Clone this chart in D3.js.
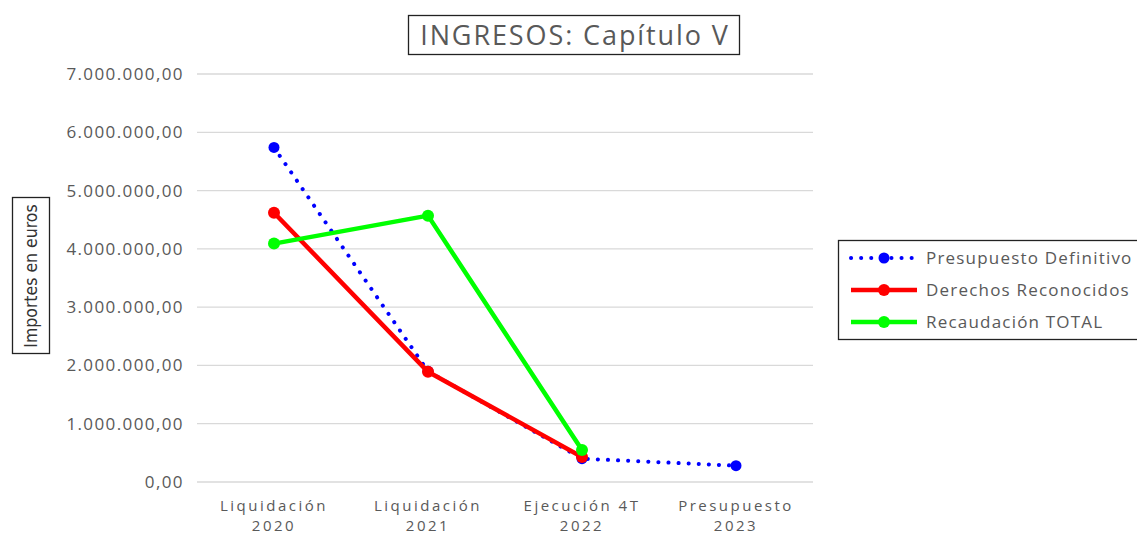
<!DOCTYPE html>
<html><head><meta charset="utf-8">
<script src="https://cdn.jsdelivr.net/npm/d3@7"></script>
<style>body{margin:0;background:#fff}svg{display:block}</style>
</head><body>
<script>
const categories = [["Liquidación","2020"],["Liquidación","2021"],["Ejecución 4T","2022"],["Presupuesto","2023"]];
const presupuestoDefinitivo = [5740000, 1900000, 400000, 280000];
const derechosReconocidos = [4620000, 1890000, 430000];
const recaudacionTotal = [4090000, 4570000, 550000];
const yTicks = [0,1000000,2000000,3000000,4000000,5000000,6000000,7000000];
const seriesNames = ["Presupuesto Definitivo","Derechos Reconocidos","Recaudación TOTAL"];

const W=1137,H=535;
const svg=d3.select("body").append("svg").attr("width",W).attr("height",H);
const font="'Open Sans', sans-serif";
const grey="#595959";

const x=d3.scaleBand().domain(d3.range(categories.length)).range([197,813]);
const y=d3.scaleLinear().domain([0,7000000]).range([482,74]);
const fmt=v=>d3.format(",.2f")(v).replace(/,/g,"#").replace(".",",").replace(/#/g,".");

// grid
svg.append("g").selectAll("line").data(yTicks).join("line")
  .attr("x1",197).attr("x2",813).attr("y1",d=>y(d)).attr("y2",d=>y(d))
  .attr("stroke","#d9d9d9").attr("stroke-width",1.3);

const ya=svg.append("g").attr("transform","translate(197,0)")
  .call(d3.axisLeft(y).tickValues(yTicks).tickFormat(fmt).tickSize(0).tickPadding(13));
ya.select(".domain").remove();
ya.selectAll("text").attr("font-family",font).attr("font-size",17).attr("letter-spacing",1.4).attr("fill",grey);

const xa=svg.append("g").attr("transform","translate(0,482)")
  .call(d3.axisBottom(x).tickSize(0).tickFormat(""));
xa.select(".domain").remove();
xa.selectAll(".tick").each(function(d){
  const g=d3.select(this);
  g.append("text").attr("font-family",font).attr("font-size",15)
    .attr("letter-spacing",2.5).attr("fill",grey).attr("text-anchor","middle")
    .attr("x",0).attr("y",29).text(categories[d][0]);
  g.append("text").attr("font-family",font).attr("font-size",15)
    .attr("letter-spacing",2.5).attr("fill",grey).attr("text-anchor","middle")
    .attr("x",0).attr("y",49).text(categories[d][1]);
});

const line=d3.line().x((d,i)=>x(i)+x.bandwidth()/2).y(d=>y(d));
function drawSeries(data,color,dotted){
  const p=svg.append("path").datum(data).attr("d",line).attr("fill","none")
    .attr("stroke",color).attr("stroke-width",dotted?4:4.5).attr("stroke-linejoin","round");
  if(dotted) p.attr("stroke-dasharray","0.1 10").attr("stroke-linecap","round");
  svg.append("g").selectAll("circle").data(data).join("circle")
    .attr("cx",(d,i)=>x(i)+x.bandwidth()/2).attr("cy",d=>y(d)).attr("r",dotted?5.5:6)
    .attr("fill",color);
}
drawSeries(presupuestoDefinitivo,"#0000ff",true);
drawSeries(derechosReconocidos,"#ff0000",false);
drawSeries(recaudacionTotal,"#00ff00",false);

// title
svg.append("rect").attr("x",408.5).attr("y",15.5).attr("width",331).attr("height",39)
  .attr("fill","#fff").attr("stroke","#222").attr("stroke-width",1.3);
svg.append("text").attr("x",575).attr("y",45).attr("text-anchor","middle")
  .attr("font-family",font).attr("font-size",27).attr("letter-spacing",1.9).attr("fill",grey).text("INGRESOS: Capítulo V");

// y label
svg.append("rect").attr("x",12.5).attr("y",197.5).attr("width",37).attr("height",156)
  .attr("fill","#fff").attr("stroke","#222").attr("stroke-width",1.3);
svg.append("text").attr("transform","translate(37,276) rotate(-90)").attr("text-anchor","middle")
  .attr("font-family","'Liberation Sans Narrow','DejaVu Sans Condensed',sans-serif").attr("font-size",17.5)
  .attr("fill","#333").text("Importes en euros");

// legend
svg.append("rect").attr("x",838.5).attr("y",240.5).attr("width",310).attr("height",99)
  .attr("fill","#fff").attr("stroke","#222").attr("stroke-width",1.3);
const colors=["#0000ff","#ff0000","#00ff00"];
const lg=svg.append("g").selectAll("g").data(seriesNames).join("g")
  .attr("transform",(d,i)=>`translate(0,${258+i*32})`);
lg.append("line").attr("x1",851).attr("x2",917).attr("y1",0).attr("y2",0)
  .attr("stroke",(d,i)=>colors[i]).attr("stroke-width",(d,i)=>i==0?4:4.5)
  .attr("stroke-dasharray",(d,i)=>i==0?"0.1 10":null).attr("stroke-linecap",(d,i)=>i==0?"round":"butt");
lg.append("circle").attr("cx",884).attr("cy",0).attr("r",(d,i)=>i==0?5.5:6).attr("fill",(d,i)=>colors[i]);
lg.append("text").attr("x",926).attr("y",6).attr("font-family",font).attr("font-size",17)
  .attr("letter-spacing",1.2).attr("fill",grey).text(d=>d);
</script>
</body></html>
